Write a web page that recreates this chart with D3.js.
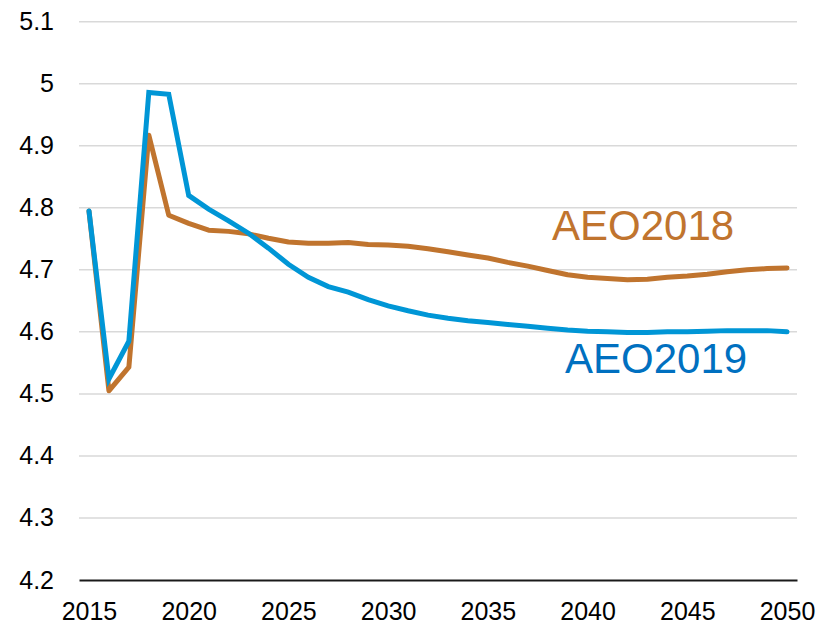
<!DOCTYPE html>
<html>
<head>
<meta charset="utf-8">
<script src="https://cdn.jsdelivr.net/npm/d3@7"></script>
<style>
  html, body { margin: 0; padding: 0; background: #fff; }
  svg { display: block; }
  text { font-family: "Liberation Sans", Arial, sans-serif; }
</style>
</head>
<body>
<svg id="chart" width="827" height="628"></svg>
<script>
// Projection years
const years = d3.range(2015, 2051);

// AEO2018 series
const aeo2018 = [
  4.795, 4.505, 4.543, 4.917, 4.788, 4.775, 4.764, 4.762, 4.758, 4.751,
  4.745, 4.743, 4.743, 4.744, 4.741, 4.740, 4.738, 4.734, 4.729, 4.724,
  4.719, 4.712, 4.706, 4.699, 4.692, 4.688, 4.686, 4.684, 4.685, 4.688,
  4.690, 4.693, 4.697, 4.700, 4.702, 4.703
];

// AEO2019 series
const aeo2019 = [
  4.795, 4.524, 4.585, 4.986, 4.983, 4.820, 4.798, 4.779, 4.759, 4.735,
  4.709, 4.688, 4.673, 4.664, 4.652, 4.642, 4.634, 4.627, 4.622, 4.618,
  4.615, 4.612, 4.609, 4.606, 4.603, 4.601, 4.600, 4.599, 4.599, 4.600,
  4.600, 4.601, 4.602, 4.602, 4.602, 4.600
];

// Axis tick labels
const yTicks = [4.2, 4.3, 4.4, 4.5, 4.6, 4.7, 4.8, 4.9, 5, 5.1];
const xTicks = [2015, 2020, 2025, 2030, 2035, 2040, 2045, 2050];

const svg = d3.select("#chart");
const plot = { left: 79, right: 797, top: 21.7, bottom: 580 };

const x = d3.scalePoint()
  .domain(years)
  .range([plot.left, plot.right])
  .padding(0.5);

const y = d3.scaleLinear()
  .domain([4.2, 5.1])
  .range([plot.bottom, plot.top]);

// Horizontal gridlines
svg.append("g")
  .selectAll("line")
  .data(yTicks.filter(d => d !== 4.2))
  .join("line")
  .attr("x1", plot.left)
  .attr("x2", plot.right)
  .attr("y1", d => y(d))
  .attr("y2", d => y(d))
  .attr("stroke", "#d9d9d9")
  .attr("stroke-width", 1.5);

// Y axis labels
const yAxis = svg.append("g")
  .attr("transform", `translate(${plot.left - 25},0)`)
  .call(d3.axisLeft(y).tickValues(yTicks).tickSize(0).tickPadding(0).tickFormat(d => String(d)));
yAxis.select(".domain").remove();
yAxis.selectAll("text")
  .attr("font-size", 25)
  .attr("fill", "#000")
  .attr("font-family", "'Liberation Sans', Arial, sans-serif");

// X axis
const xAxis = svg.append("g")
  .attr("transform", `translate(0,${plot.bottom})`)
  .call(d3.axisBottom(x).tickValues(xTicks).tickSize(0).tickSizeOuter(0).tickPadding(22));
xAxis.select(".domain")
  .attr("stroke", "#1a1a1a")
  .attr("stroke-width", 2);
xAxis.selectAll("text")
  .attr("font-size", 25)
  .attr("fill", "#000")
  .attr("font-family", "'Liberation Sans', Arial, sans-serif");

const line = d3.line()
  .x((d, i) => x(years[i]))
  .y(d => y(d));

// Series lines
svg.append("path")
  .datum(aeo2018)
  .attr("fill", "none")
  .attr("stroke", "#c0742e")
  .attr("stroke-width", 5)
  .attr("stroke-linejoin", "round")
  .attr("stroke-linecap", "round")
  .attr("d", line);

svg.append("path")
  .datum(aeo2019)
  .attr("fill", "none")
  .attr("stroke", "#0096d6")
  .attr("stroke-width", 5)
  .attr("stroke-linejoin", "miter")
  .attr("stroke-linecap", "round")
  .attr("d", line);

// Series labels
svg.append("text")
  .attr("x", 552)
  .attr("y", 240)
  .attr("font-size", 42)
  .attr("fill", "#c0742e")
  .text("AEO2018");

svg.append("text")
  .attr("x", 565)
  .attr("y", 373)
  .attr("font-size", 42)
  .attr("fill", "#0070c0")
  .text("AEO2019");
</script>
</body>
</html>
